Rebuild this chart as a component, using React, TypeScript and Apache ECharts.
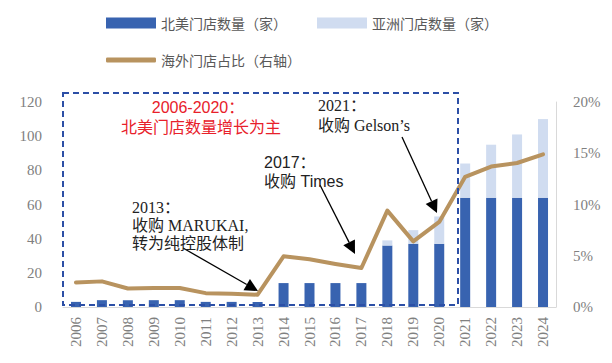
import React, { useEffect, useRef } from 'react';
import * as echarts from 'echarts';

const years = ['2006', '2007', '2008', '2009', '2010', '2011', '2012', '2013', '2014', '2015', '2016', '2017', '2018', '2019', '2020', '2021', '2022', '2023', '2024'];
const northAmerica = [3, 4, 4, 4, 4, 3, 3, 3, 14, 14, 14, 14, 36, 37, 37, 64, 64, 64, 64];
const asia = [0, 0, 0, 0, 0, 0, 0, 0, 0, 0, 0, 0, 3, 8, 16, 20, 31, 37, 46];
const overseasShare = [2.4, 2.5, 1.8, 1.85, 1.85, 1.35, 1.3, 1.2, 4.95, 4.65, 4.2, 3.8, 9.4, 6.4, 8.3, 12.7, 13.7, 14.05, 14.9];

const seriesNames = ['北美门店数量（家）', '亚洲门店数量（家）', '海外门店占比（右轴）'];

const SERIF = "'Liberation Serif', 'Times New Roman', 'Noto Sans CJK SC', serif";
const SANS = "'Liberation Sans', Arial, 'Noto Sans CJK SC', sans-serif";

function arrow(x1: number, y1: number, x2: number, y2: number) {
  const ang = Math.atan2(y2 - y1, x2 - x1);
  const L = 13;
  const W = 6.5;
  const c = Math.cos(ang);
  const s = Math.sin(ang);
  const bx = x2 - L * c;
  const by = y2 - L * s;
  return {
    type: 'group',
    z: 100,
    children: [
      { type: 'line', shape: { x1, y1, x2: bx, y2: by }, style: { stroke: '#000', lineWidth: 1.3 } },
      {
        type: 'polygon',
        shape: { points: [[x2, y2], [bx - W * s, by + W * c], [bx + W * s, by - W * c]] },
        style: { fill: '#000' },
      },
    ],
  };
}

function txt(x: number, y: number, text: string, font: string, size: number, color: string, align = 'left') {
  return {
    type: 'text',
    x,
    y,
    z: 100,
    style: { text, fontFamily: font, fontSize: size, fill: color, textAlign: align, textVerticalAlign: 'middle' },
  };
}

export default function App() {
  const ref = useRef<HTMLDivElement>(null);
  useEffect(() => {
    if (!ref.current) return;
    const chart = echarts.init(ref.current, undefined, { renderer: 'svg' });
    const legendText = { fontFamily: "'Noto Sans CJK SC', sans-serif", fontSize: 14, color: '#595959', lineHeight: 18 };
    chart.setOption({
      animation: false,
      backgroundColor: '#fff',
      grid: { left: 63, right: 56, top: 102, bottom: 56 },
      legend: [
        {
          data: [seriesNames[0], seriesNames[1]],
          left: 106,
          top: 14,
          padding: 0,
          itemWidth: 50,
          itemHeight: 11,
          itemGap: 30,
          icon: 'rect',
          textStyle: legendText,
        },
        {
          data: [seriesNames[2]],
          left: 106,
          top: 51,
          padding: 0,
          itemWidth: 50,
          itemHeight: 5,
          icon: 'roundRect',
          textStyle: legendText,
        },
      ],
      xAxis: {
        type: 'category',
        data: years,
        axisLine: { show: true, lineStyle: { color: '#d9d9d9', width: 1 } },
        axisTick: { show: false },
        axisLabel: { rotate: 90, fontFamily: SERIF, fontSize: 15, color: '#808080', margin: 10 },
      },
      yAxis: [
        {
          type: 'value',
          min: 0,
          max: 120,
          interval: 20,
          splitLine: { show: false },
          axisLine: { show: false },
          axisTick: { show: false },
          axisLabel: { fontFamily: SERIF, fontSize: 15, color: '#808080', margin: 21 },
        },
        {
          type: 'value',
          min: 0,
          max: 20,
          interval: 5,
          splitLine: { show: false },
          axisLine: { show: true, lineStyle: { color: '#d9d9d9', width: 1 } },
          axisTick: { show: false },
          axisLabel: { fontFamily: SERIF, fontSize: 15, color: '#808080', margin: 17, formatter: '{value}%' },
        },
      ],
      series: [
        {
          name: seriesNames[0],
          type: 'bar',
          stack: 'stores',
          data: northAmerica,
          barWidth: 10,
          itemStyle: { color: '#3863b0' },
        },
        {
          name: seriesNames[1],
          type: 'bar',
          stack: 'stores',
          data: asia,
          barWidth: 10,
          itemStyle: { color: '#d0dcf0' },
        },
        {
          name: seriesNames[2],
          type: 'line',
          yAxisIndex: 1,
          data: overseasShare,
          symbol: 'none',
          lineStyle: { color: '#b8935f', width: 4, join: 'round', cap: 'round' },
          itemStyle: { color: '#b8935f' },
          z: 5,
        },
      ],
      graphic: [
        {
          type: 'rect',
          z: 90,
          shape: { x: 63, y: 93, width: 395, height: 212 },
          style: { fill: 'none', stroke: '#2c4fa6', lineWidth: 2, lineDash: [6, 4] },
        },
        txt(198, 107, '2006-2020：', SANS, 16, '#e8202a', 'center'),
        txt(201, 127, '北美门店数量增长为主', SANS, 16, '#e8202a', 'center'),
        txt(132, 207, '2013：', SERIF, 16, '#222'),
        txt(132, 225, '收购 MARUKAI,', SERIF, 16, '#222'),
        txt(132, 243, '转为纯控股体制', SERIF, 16, '#222'),
        txt(264, 162, '2017：', SANS, 16, '#222'),
        txt(264, 181, '收购 Times', SANS, 16, '#222'),
        txt(318, 105, '2021：', SERIF, 16, '#222'),
        txt(318, 125, '收购 Gelson’s', SERIF, 16, '#222'),
        arrow(183, 248, 258, 291),
        arrow(320, 185, 355, 254),
        arrow(402, 137, 437, 213),
      ],
    });
    return () => chart.dispose();
  }, []);
  return <div ref={ref} style={{ position: 'fixed', left: 0, top: 0, width: 612, height: 363 }} />;
}
